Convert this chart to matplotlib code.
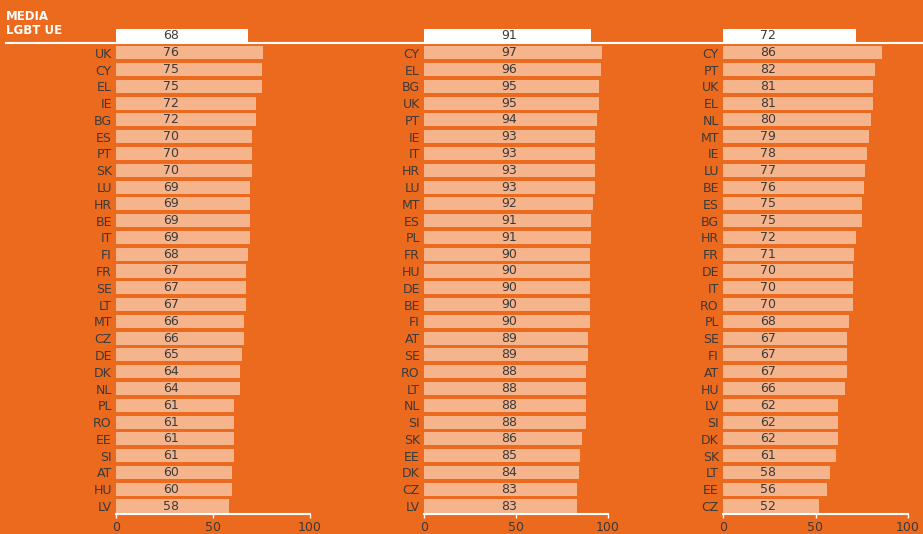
import matplotlib.pyplot as plt
from matplotlib.lines import Line2D

# media UE + paesi, tre pannelli
avg = [68, 91, 72]

c1 = ["UK", "CY", "EL", "IE", "BG", "ES", "PT", "SK", "LU", "HR", "BE", "IT", "FI", "FR",
      "SE", "LT", "MT", "CZ", "DE", "DK", "NL", "PL", "RO", "EE", "SI", "AT", "HU", "LV"]
v1 = [76, 75, 75, 72, 72, 70, 70, 70, 69, 69, 69, 69, 68, 67,
      67, 67, 66, 66, 65, 64, 64, 61, 61, 61, 61, 60, 60, 58]

c2 = ["CY", "EL", "BG", "UK", "PT", "IE", "IT", "HR", "LU", "MT", "ES", "PL", "FR", "HU",
      "DE", "BE", "FI", "AT", "SE", "RO", "LT", "NL", "SI", "SK", "EE", "DK", "CZ", "LV"]
v2 = [97, 96, 95, 95, 94, 93, 93, 93, 93, 92, 91, 91, 90, 90,
      90, 90, 90, 89, 89, 88, 88, 88, 88, 86, 85, 84, 83, 83]

c3 = ["CY", "PT", "UK", "EL", "NL", "MT", "IE", "LU", "BE", "ES", "BG", "HR", "FR", "DE",
      "IT", "RO", "PL", "SE", "FI", "AT", "HU", "LV", "SI", "DK", "SK", "LT", "EE", "CZ"]
v3 = [86, 82, 81, 81, 80, 79, 78, 77, 76, 75, 75, 72, 71, 70,
      70, 70, 68, 67, 67, 67, 66, 62, 62, 62, 61, 58, 56, 52]

ticks = [0, 50, 100]

bg = "#EC6A1E"
bar_c = "#F5B48C"
txt = "#3a3a3a"

W, H = 923, 534
fig = plt.figure(figsize=(W / 100, H / 100), dpi=100, facecolor=bg)

panels = [(c1, v1, 116, 310, 28.4), (c2, v2, 424, 608, 46.2), (c3, v3, 723, 908, 24.3)]
top_px, bot_px = 27.6, 514.4

for k, (cats, vals, x0, x1, lab_x) in enumerate(panels):
    ax = fig.add_axes([x0 / W, 1 - bot_px / H, (x1 - x0) / W, (bot_px - top_px) / H])
    ax.set_facecolor(bg)
    n = len(cats) + 1
    ys = list(range(n))
    ax.barh(0, avg[k], height=0.78, color="white")
    ax.barh(ys[1:], vals, height=0.78, color=bar_c)
    ax.text(lab_x, 0, str(avg[k]), ha="center", va="center", fontsize=9, color=txt)
    for y, v in zip(ys[1:], vals):
        ax.text(lab_x, y, str(v), ha="center", va="center", fontsize=9, color=txt)
    ax.set_ylim(n - 0.5, -0.5)
    ax.set_xlim(0, 100)
    ax.set_yticks(ys[1:])
    ax.set_yticklabels(cats, fontsize=9, color=txt)
    ax.tick_params(axis="y", length=0, pad=3)
    ax.set_xticks(ticks)
    ax.set_xticklabels([str(t) for t in ticks], fontsize=9, color=txt)
    ax.tick_params(axis="x", length=3, width=1, color="white", pad=2)
    for s in ["top", "right", "left"]:
        ax.spines[s].set_visible(False)
    ax.spines["bottom"].set_color("white")
    ax.spines["bottom"].set_linewidth(1.5)

fig.add_artist(Line2D([6 / W, 1], [1 - 43 / H, 1 - 43 / H], color="white", lw=1.5))
fig.text(6 / W, 1 - 16 / H, "MEDIA", color="white", fontsize=8.5, fontweight="bold", va="center")
fig.text(6 / W, 1 - 31 / H, "LGBT UE", color="white", fontsize=8.5, fontweight="bold", va="center")

fig.savefig("out.png", dpi=100, facecolor=bg)
